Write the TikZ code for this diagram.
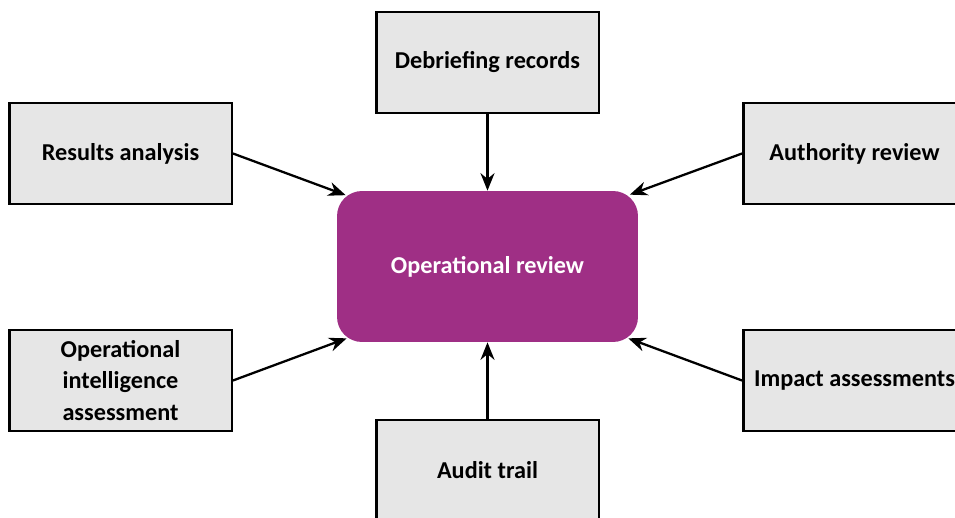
\documentclass[tikz,border=0pt]{standalone}
\usepackage{fontspec}
\setmainfont{Carlito}
\usetikzlibrary{arrows.meta,positioning}
\definecolor{boxgray}{HTML}{E6E6E6}
\definecolor{hubpurple}{HTML}{9F2F85}
\tikzset{
  srcbox/.style={draw=black,fill=boxgray,line width=1.4pt,align=center,
                 minimum width=4.45cm,minimum height=2.02cm,inner sep=2pt,
                 font=\fontsize{13.8}{18}\selectfont\bfseries},
  hubbox/.style={fill=hubpurple,rounded corners=0.5cm,align=center,
                 minimum width=6.02cm,minimum height=3.02cm,text=white,
                 font=\fontsize{13.8}{18}\selectfont\bfseries},
  feedarr/.style={-{Stealth[length=3.5mm,width=2.8mm]},line width=1.3pt,
                  draw=black}
}
\begin{document}
\begin{tikzpicture}[x=0.02cm,y=-0.02cm]
    \path[use as bounding box] (0,0) rectangle (955,517);

    \node[hubbox] (rev) at (487.5,266.5) {Operational review};

    \node[srcbox] (dr) at (487.5,62.5) {Debriefing records};
    \node[srcbox] (ra) at (120.5,153.5) {Results analysis};
    \node[srcbox] (ar) at (854.5,153.5) {Authority review};
    \node[srcbox] (oia) at (120.5,380.5)
      {Operational\\intelligence\\assessment};
    \node[srcbox] (ia) at (854.5,380.5) {Impact assessments};
    \node[srcbox] (at) at (487.5,470.5) {Audit trail};

    \draw[feedarr] (dr) -- (rev);
    \draw[feedarr] (at) -- (rev);
    \draw[feedarr] (ra.east) -- ([xshift=0.18cm,yshift=-0.09cm]rev.north west);
    \draw[feedarr] (ar.west) -- ([xshift=-0.17cm,yshift=-0.08cm]rev.north east);
    \draw[feedarr] (oia.east) -- ([xshift=0.2cm,yshift=0.08cm]rev.south west);
    \draw[feedarr] (ia.west) -- ([xshift=-0.2cm,yshift=0.08cm]rev.south east);
\end{tikzpicture}
\end{document}
